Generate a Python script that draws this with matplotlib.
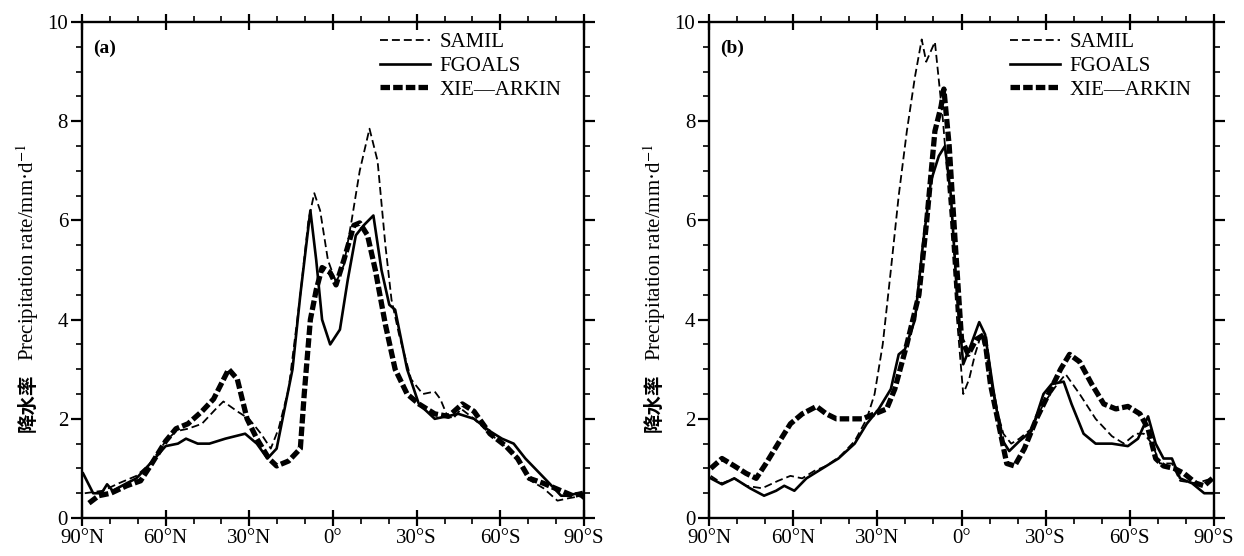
import matplotlib
matplotlib.use("Agg")
import matplotlib.pyplot as plt
from matplotlib.ticker import MultipleLocator, FixedLocator

plt.rcParams['font.family'] = ['Liberation Serif', 'Noto Sans CJK SC']
plt.rcParams['mathtext.fontset'] = 'stix'

# ---------------- data: panel (a) ----------------
a_samil_lat = [89, 82.5, 76.8, 70.5, 65.5, 60, 56.3, 52, 47, 42, 39.3, 34.3, 30.1, 25.8, 22.3, 19.5,
               15.9, 11.7, 8.8, 6.7, 4.6, 1.8, -1.1, -3.9, -6.7, -9.6, -13.1, -16, -18.8, -21, -23.7,
               -28, -32.2, -36.5, -38.5, -40.7, -43, -46, -50.6, -56.3, -64.8, -71, -75.5, -80.5, -84.6, -89.7]
a_samil_val = [0.5, 0.55, 0.7, 0.85, 1.1, 1.55, 1.75, 1.8, 1.9, 2.2, 2.35, 2.15, 2.0, 1.7, 1.4, 1.8,
               2.6, 4.5, 6.0, 6.55, 6.2, 5.2, 4.75, 5.1, 6.0, 7.0, 7.85, 7.2, 5.5, 4.4, 3.7,
               2.8, 2.5, 2.55, 2.4, 2.1, 2.0, 2.2, 2.0, 1.7, 1.3, 0.75, 0.6, 0.35, 0.4, 0.45]

a_fgoals_lat = [89.6, 86, 83, 81, 79, 74, 70.5, 65.5, 60, 55.6, 52.7, 48.5, 44.3, 38.6, 31.5, 27.3,
                23.5, 20.2, 14.5, 11.7, 8.1, 6, 3.9, 1.0, -2.5, -5.3, -8.2, -11, -14.5, -17.4, -20.2,
                -22.3, -26.6, -30.8, -36.5, -40.7, -45, -50.6, -56.3, -60.6, -64.8, -69, -73.3, -77.6,
                -81.8, -84.6, -87.5, -89.7]
a_fgoals_val = [0.9, 0.5, 0.5, 0.68, 0.55, 0.7, 0.8, 1.1, 1.45, 1.5, 1.6, 1.5, 1.5, 1.6, 1.7, 1.5,
                1.2, 1.4, 3.0, 4.5, 6.2, 5.2, 4.0, 3.5, 3.8, 4.8, 5.7, 5.9, 6.1, 5.0, 4.3,
                4.2, 3.0, 2.3, 2.0, 2.05, 2.1, 2.0, 1.75, 1.6, 1.5, 1.2, 0.95, 0.7,
                0.45, 0.45, 0.5, 0.4]

a_xie_lat = [87.5, 84, 79.7, 74, 69, 65.5, 60, 56.3, 52, 47, 42.8, 37.4, 34.3, 30.8, 27.3, 23, 20.2,
             15.9, 11.7, 10.3, 8.1, 6, 3.9, 1, -1.1, -3.9, -7.5, -9.6, -12.4, -15.2, -18.8, -22.3,
             -26.6, -30.8, -36.5, -41.4, -46.4, -50.6, -56.3, -62, -66.2, -70.4, -75.5, -81.8, -86, -89.7]
a_xie_val = [0.3, 0.45, 0.5, 0.65, 0.75, 1.05, 1.55, 1.8, 1.9, 2.15, 2.4, 3.0, 2.8, 2.0, 1.6, 1.2, 1.05,
             1.15, 1.4, 2.5, 4.0, 4.6, 5.05, 4.95, 4.7, 5.2, 5.9, 5.95, 5.7, 5.0, 3.9, 3.0,
             2.5, 2.3, 2.1, 2.05, 2.3, 2.15, 1.7, 1.45, 1.2, 0.8, 0.7, 0.55, 0.45, 0.5]

# ---------------- data: panel (b) ----------------
b_samil_lat = [89.4, 85.4, 81, 76.8, 71.1, 65.4, 61, 56.8, 52.5, 48.2, 43.2, 38.1, 33.8, 31, 28.1,
               25.2, 22.4, 19.5, 16.6, 14.2, 12.6, 9.5, 6.6, 3.8, 1.6, -0.6, -2.7, -4.8, -7, -9.1,
               -12, -14.9, -17.7, -20.6, -24.9, -29.2, -33.5, -37.1, -42.1, -47.8, -53.6, -57.9,
               -62.1, -65, -67.9, -70.7, -75, -77.9, -83.6, -89.4]
b_samil_val = [0.85, 0.7, 0.8, 0.65, 0.6, 0.75, 0.85, 0.8, 0.95, 1.05, 1.25, 1.55, 2.0, 2.5, 3.5,
               5.0, 6.5, 7.8, 8.9, 9.65, 9.2, 9.6, 8.0, 6.0, 4.0, 2.5, 2.8, 3.3, 3.7, 3.2,
               2.3, 1.7, 1.5, 1.6, 1.8, 2.3, 2.65, 2.9, 2.5, 2.0, 1.65, 1.5,
               1.7, 1.7, 1.5, 1.1, 1.1, 0.75, 0.7, 0.8]

b_fgoals_lat = [89.4, 85.4, 81, 75.4, 70.4, 66.1, 63.2, 59.6, 55.3, 49.6, 43.9, 38.1, 33.8, 29.5,
                25.2, 22.4, 20.2, 16.6, 13.8, 10.9, 8.1, 5.9, 3.8, 1.6, -0.6, -3.4, -6.3, -8.4,
                -11.3, -14.2, -17, -20.6, -24.9, -29.2, -32.1, -36.4, -39.2, -43.5, -47.8, -53.6,
                -59.3, -62.9, -66.5, -69.2, -72, -75, -77.9, -82.2, -86.5, -89.4]
b_fgoals_val = [0.8, 0.68, 0.8, 0.6, 0.45, 0.55, 0.65, 0.55, 0.8, 1.0, 1.2, 1.5, 1.9, 2.2,
                2.6, 3.3, 3.4, 4.0, 5.5, 6.8, 7.3, 7.5, 6.5, 4.5, 3.1, 3.5, 3.95, 3.7,
                2.6, 1.6, 1.35, 1.55, 1.75, 2.5, 2.7, 2.75, 2.3, 1.7, 1.5, 1.5,
                1.45, 1.6, 2.05, 1.5, 1.2, 1.2, 0.8, 0.7, 0.5, 0.5]

b_xie_lat = [89.4, 85.4, 81, 76.8, 73.2, 69.7, 65.4, 61, 56.8, 51.7, 48.2, 44.6, 39.6, 35.3, 31,
             26.7, 23.8, 19.5, 15.2, 12.4, 9.5, 7.3, 6.3, 4.4, 2.2, 0, -2.4, -5.2, -8.1, -10.3,
             -13.2, -16.1, -18.9, -22.4, -26.7, -31, -35.3, -38.5, -42.1, -46.4, -50.7, -55,
             -59.3, -63.6, -66.5, -69.2, -72, -75.8, -79.3, -83.6, -86.5, -89.4]
b_xie_val = [1.0, 1.2, 1.05, 0.9, 0.8, 1.1, 1.5, 1.9, 2.1, 2.25, 2.1, 2.0, 2.0, 2.0, 2.1,
             2.2, 2.6, 3.5, 4.5, 6.0, 7.8, 8.3, 8.65, 7.5, 5.5, 3.6, 3.3, 3.6, 3.7, 2.7,
             1.9, 1.1, 1.05, 1.4, 2.0, 2.5, 3.0, 3.3, 3.15, 2.7, 2.3, 2.2,
             2.25, 2.1, 1.8, 1.2, 1.05, 1.0, 0.9, 0.7, 0.65, 0.8]

series_names = ['SAMIL', 'FGOALS', 'XIE\u2014ARKIN']
x_tick_pos = [90, 60, 30, 0, -30, -60, -90]
x_tick_labels = ['90°N', '60°N', '30°N', '0°', '30°S', '60°S', '90°S']
y_tick_pos = [0, 2, 4, 6, 8, 10]
panel_labels = ['(a)', '(b)']

fig = plt.figure(figsize=(12.44, 5.56), dpi=100)
ax_a = fig.add_axes([0.0659, 0.0683, 0.4035, 0.892])
ax_b = fig.add_axes([0.5700, 0.0683, 0.4059, 0.892])

panels = [
    (ax_a, (a_samil_lat, a_samil_val), (a_fgoals_lat, a_fgoals_val), (a_xie_lat, a_xie_val)),
    (ax_b, (b_samil_lat, b_samil_val), (b_fgoals_lat, b_fgoals_val), (b_xie_lat, b_xie_val)),
]

for i, (ax, sam, fg, xie) in enumerate(panels):
    ax.plot(sam[0], sam[1], color='black', lw=1.3, linestyle=(0, (4.4, 2.2)), label=series_names[0],
            solid_joinstyle='round', dash_capstyle='butt')
    ax.plot(fg[0], fg[1], color='black', lw=1.9, linestyle='-', label=series_names[1],
            solid_joinstyle='round')
    ax.plot(xie[0], xie[1], color='black', lw=3.8, linestyle=(0, (1.8, 0.6)), label=series_names[2],
            dash_joinstyle='round')
    ax.set_xlim(90, -90)
    ax.set_ylim(0, 10)
    ax.xaxis.set_major_locator(FixedLocator(x_tick_pos))
    ax.set_xticklabels(x_tick_labels)
    ax.xaxis.set_minor_locator(MultipleLocator(10))
    ax.yaxis.set_major_locator(FixedLocator(y_tick_pos))
    ax.yaxis.set_minor_locator(MultipleLocator(0.5))
    ax.tick_params(axis='both', which='major', direction='out', length=8, width=1.6,
                   labelsize=15, top=True, right=True, pad=2)
    ax.tick_params(axis='both', which='minor', direction='out', length=4, width=1.2,
                   top=True, right=True)
    ax.tick_params(axis='x', which='major', direction='inout', length=12)
    for sp in ax.spines.values():
        sp.set_linewidth(1.7)
    ax.text(0.022, 0.965, panel_labels[i], transform=ax.transAxes, fontsize=14,
            fontweight='bold', ha='left', va='top')
    ax.text(-0.108, 0.535, 'Precipitation rate/mm\u00b7d$^{-1}$', transform=ax.transAxes,
            rotation=90, fontsize=15, ha='center', va='center')
    ax.text(-0.108, 0.232, '降水率', transform=ax.transAxes, rotation=90, fontsize=14,
            fontweight='bold', family='Noto Sans CJK SC', ha='center', va='center')
    leg = ax.legend(loc='upper right', bbox_to_anchor=(0.985, 1.008), frameon=False,
                    fontsize=15, handlelength=2.4, handletextpad=0.45, labelspacing=0.2,
                    borderaxespad=0.3)

fig.savefig('out.png', dpi=100)
